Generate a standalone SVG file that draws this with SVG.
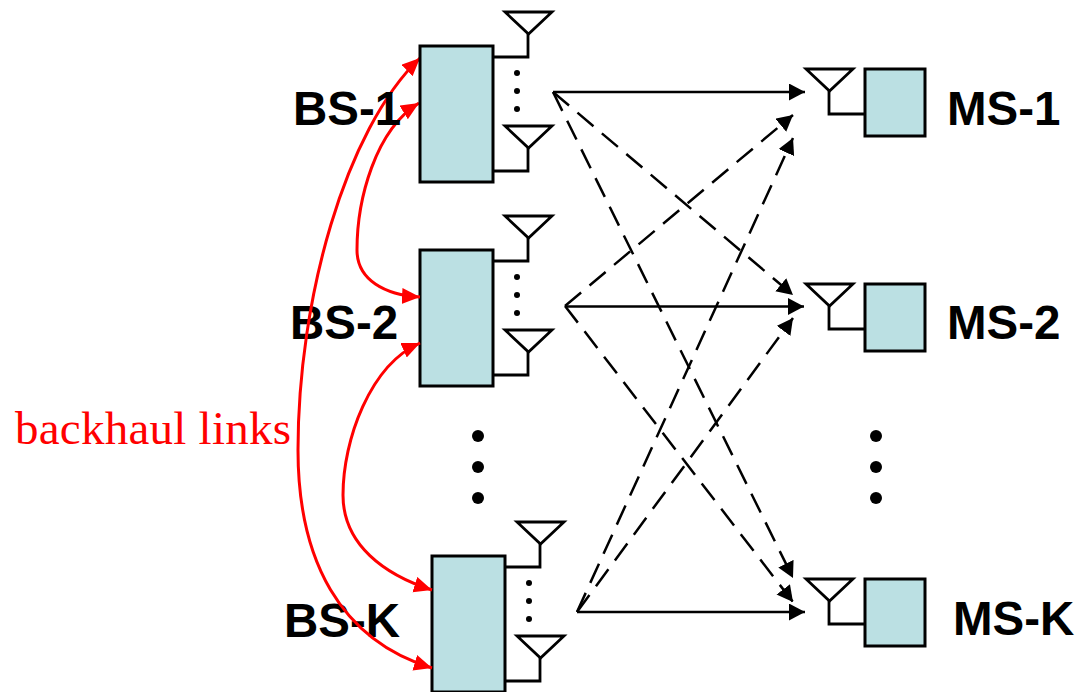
<svg xmlns="http://www.w3.org/2000/svg" width="1077" height="692" viewBox="0 0 1077 692">
<style>
.box{fill:#bbe0e3;stroke:#000;stroke-width:3}
.ant{fill:#fff;stroke:#000;stroke-width:2.8;stroke-linejoin:miter}
.wire{fill:none;stroke:#000;stroke-width:2.8}
.lbl{font-family:"Liberation Sans",Arial,sans-serif;font-weight:bold;font-size:47.500px;fill:#000}
.solid{fill:none;stroke:#000;stroke-width:2.500;marker-end:url(#ah)}
.dash{fill:none;stroke:#000;stroke-width:2.500;stroke-dasharray:21 11;marker-end:url(#ah)}
.red{fill:none;stroke:#f00;stroke-width:3;marker-start:url(#rh);marker-end:url(#rh)}
</style>
<defs>
<marker id="ah" markerUnits="userSpaceOnUse" markerWidth="18" markerHeight="18" refX="16" refY="8.5" orient="auto"><path d="M0,0L16,8.500L0,17Z" fill="#000"/></marker>
<marker id="rh" markerUnits="userSpaceOnUse" markerWidth="20" markerHeight="18" refX="18" refY="8" orient="auto-start-reverse"><path d="M0,0L18,8L0,16Z" fill="#f00"/></marker>
<g id="bsAnt"><path class="wire" d="M493,57H528V34M493,171H528V148"/><path class="ant" d="M505,12H552L528.500,34Z"/><path class="ant" d="M505,126H552L528.500,148Z"/><circle cx="517" cy="73" r="3"/><circle cx="517" cy="91" r="3"/><circle cx="517" cy="109" r="3"/></g>
<g id="msAnt"><path class="wire" d="M865,114H829V91"/><path class="ant" d="M806,69H853L829.500,91Z"/></g>
</defs>
<rect width="1077" height="692" fill="#fff"/>
<g id="bs2"><rect class="box" x="420" y="250" width="73" height="136"/><use href="#bsAnt" y="204"/><text class="lbl" x="290" y="339">BS-2</text></g>
<g id="bsk"><rect class="box" x="432" y="556" width="73" height="136"/><use href="#bsAnt" x="12" y="510"/><text class="lbl" x="284" y="637">BS-K</text></g>
<g id="ms1"><rect class="box" x="865" y="69" width="60" height="67"/><use href="#msAnt"/><text class="lbl" x="947" y="125">MS-1</text></g>
<g id="ms2"><rect class="box" x="865" y="284" width="60" height="67"/><use href="#msAnt" y="215"/><text class="lbl" x="947" y="339">MS-2</text></g>
<g id="msk"><rect class="box" x="865" y="579" width="60" height="67"/><use href="#msAnt" y="510"/><text class="lbl" x="953" y="635">MS-K</text></g>
<g id="connectors">
<path class="solid" d="M553,92H805"/>
<path class="dash" d="M553,92L793,295"/>
<path class="dash" d="M553,92L793,578"/>
<path class="dash" d="M565,306L793,115"/>
<path class="solid" d="M565,306.500H804"/>
<path class="dash" d="M565,306L793,602"/>
<path class="dash" d="M577,612L793,138"/>
<path class="dash" d="M577,612L793,318"/>
<path class="solid" d="M577,612H805"/>
<path class="red" d="M420,58C345,130 298,300 298,450C298,560 340,640 432,668"/>
<path class="red" d="M419,103C375,130 357,200 357,250C357,280 385,295 420,297"/>
<path class="red" d="M420,343C370,365 343,440 343,495C343,545 385,575 432,590"/>
</g>
<g id="bs1"><rect class="box" x="420" y="46" width="73" height="136"/><use href="#bsAnt"/><text class="lbl" x="293" y="125">BS-1</text></g>
<g id="dotsL"><circle cx="478" cy="436" r="6"/><circle cx="478" cy="467" r="6"/><circle cx="478" cy="498" r="6"/></g>
<g id="dotsR"><circle cx="876" cy="436" r="6"/><circle cx="876" cy="467" r="6"/><circle cx="876" cy="498" r="6"/></g>
<text id="backhaul" x="15" y="444" font-family="Liberation Serif,Times New Roman,serif" font-size="47" fill="#f00" textLength="276">backhaul links</text>
</svg>
